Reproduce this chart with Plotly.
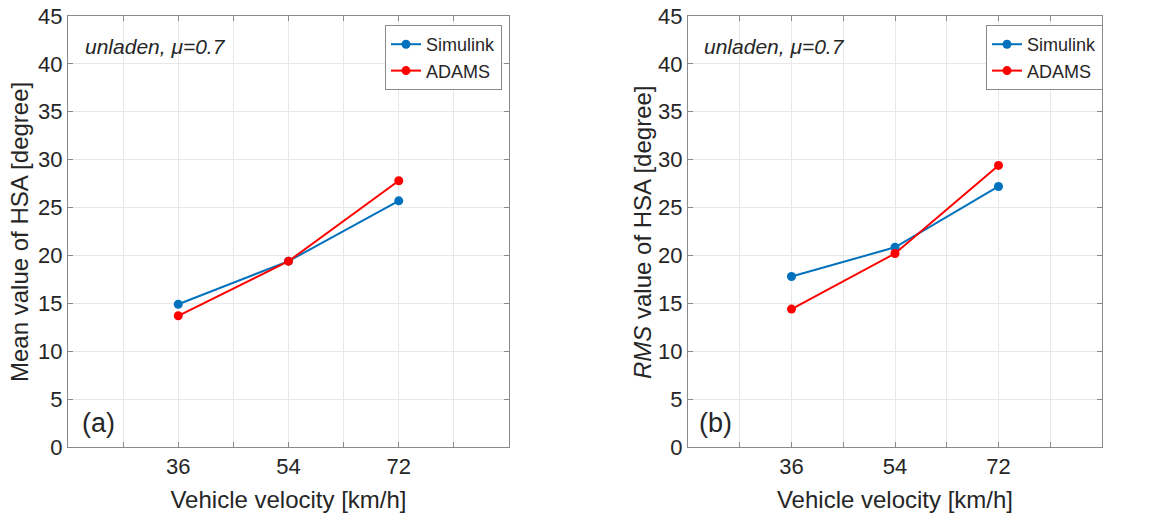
import plotly.graph_objects as go
from plotly.subplots import make_subplots

# velocities [km/h]
velocity = [36, 54, 72]

# (a) mean value of HSA [degree]
mean_simulink = [14.9, 19.4, 25.7]
mean_adams = [13.7, 19.4, 27.8]

# (b) RMS value of HSA [degree]
rms_simulink = [17.8, 20.85, 27.2]
rms_adams = [14.4, 20.2, 29.4]

x_ticks = [27, 36, 45, 54, 63, 72, 81]
x_ticktext = ["", "36", "", "54", "", "72", ""]
y_ticks = [0, 5, 10, 15, 20, 25, 30, 35, 40, 45]

BLUE = "#0072BD"
RED = "#FF0000"
FONT = "Liberation Sans, Arial, sans-serif"
TXT = "#262626"

W, H = 1154, 516

fig = make_subplots(rows=1, cols=2)

panels = [
    (1, mean_simulink, mean_adams, "legend"),
    (2, rms_simulink, rms_adams, "legend2"),
]
for col, sim, adams, leg in panels:
    fig.add_trace(go.Scatter(x=velocity, y=sim, mode="lines+markers", name="Simulink",
                             line=dict(color=BLUE, width=2), marker=dict(color=BLUE, size=9),
                             legend=leg), row=1, col=col)
    fig.add_trace(go.Scatter(x=velocity, y=adams, mode="lines+markers", name="ADAMS",
                             line=dict(color=RED, width=2), marker=dict(color=RED, size=9),
                             legend=leg), row=1, col=col)

axis_style = dict(showgrid=True, gridcolor="#e8e8e8", gridwidth=1, automargin=False,
                  showline=True, linecolor="#8a8a8a", linewidth=1, mirror="allticks",
                  ticks="inside", ticklen=5, tickcolor="#8a8a8a", ticklabeloverflow="allow",
                  tickfont=dict(family=FONT, size=22, color=TXT), zeroline=False)

fig.update_xaxes(range=[18, 90], tickvals=x_ticks, ticktext=x_ticktext, **axis_style)
fig.update_yaxes(range=[0, 45], tickvals=y_ticks, **axis_style)

title_font = dict(family=FONT, size=24, color=TXT)
y_dom = [1 - 447 / H, 1 - 16 / H]
fig.update_layout(
    width=W, height=H,
    margin=dict(l=0, r=0, t=0, b=0),
    plot_bgcolor="white", paper_bgcolor="white",
    xaxis=dict(domain=[68 / W, 509 / W],
               title=dict(text="Vehicle velocity [km/h]", font=title_font, standoff=12)),
    xaxis2=dict(domain=[688 / W, 1102 / W],
                title=dict(text="Vehicle velocity [km/h]", font=title_font, standoff=12)),
    yaxis=dict(domain=y_dom),
    yaxis2=dict(domain=y_dom),
    legend=dict(x=385 / W, y=1 - 25 / H, xanchor="left", yanchor="top", bgcolor="white",
                bordercolor="#8a8a8a", borderwidth=1, font=dict(family=FONT, size=18, color=TXT),
                tracegroupgap=0, itemwidth=30),
    legend2=dict(x=986 / W, y=1 - 25 / H, xanchor="left", yanchor="top", bgcolor="white",
                 bordercolor="#8a8a8a", borderwidth=1, font=dict(family=FONT, size=18, color=TXT),
                 tracegroupgap=0, itemwidth=30),
    showlegend=True,
)

# y-axis titles as rotated annotations so their distance from the axis can be set
for tx, ttl in [(19, "Mean value of HSA [degree]"), (642, "<i>RMS</i> value of HSA [degree]")]:
    fig.add_annotation(x=tx / W, y=1 - 232 / H, xref="paper", yref="paper", xanchor="center", yanchor="middle",
                       text=ttl, textangle=-90, showarrow=False, font=title_font)

ann_font = dict(family=FONT, size=21, color=TXT)
for xpos, label, lx in [(83, "(a)", 80), (702, "(b)", 697)]:
    fig.add_annotation(x=xpos / W, y=1 - 47 / H, xref="paper", yref="paper", xanchor="left", yanchor="middle",
                       text="<i>unladen, μ=0.7</i>", showarrow=False, font=ann_font)
    fig.add_annotation(x=lx / W, y=1 - 423 / H, xref="paper", yref="paper", xanchor="left", yanchor="middle",
                       text=label, showarrow=False, font=dict(family=FONT, size=27, color=TXT))

# drop the default 8px body margin so the figure fills the window
fig.write_html("out.html", config={"displayModeBar": False},
               post_script="document.body.style.margin='0px';")
